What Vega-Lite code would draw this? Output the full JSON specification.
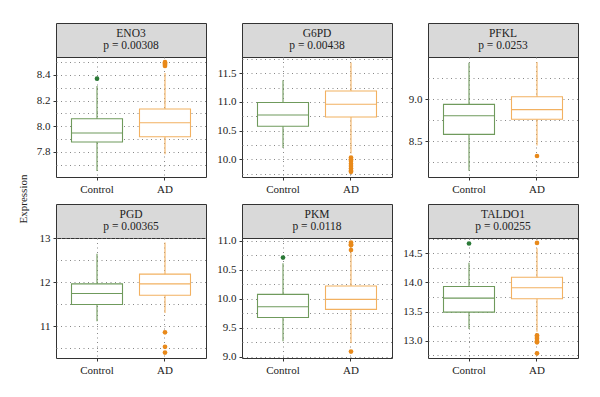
{
"$schema": "https://vega.github.io/schema/vega-lite/v6.json",
"padding": {"left": 17, "top": 22, "right": 20, "bottom": 5},
"title": {"text": "Expression", "orient": "left", "anchor": "middle", "font": "Liberation Serif", "fontSize": 11, "fontWeight": "normal", "color": "#222", "offset": 3},
"datasets": {
"heads": [
{"gene": "ENO3", "label": "ENO3\np = 0.00308"},
{"gene": "G6PD", "label": "G6PD\np = 0.00438"},
{"gene": "PFKL", "label": "PFKL\np = 0.0253"},
{"gene": "PGD", "label": "PGD\np = 0.00365"},
{"gene": "PKM", "label": "PKM\np = 0.0118"},
{"gene": "TALDO1", "label": "TALDO1\np = 0.00255"}
],
"stats": [
{"gene": "ENO3", "group": "Control", "lo": 7.652, "q1": 7.878, "med": 7.948, "q3": 8.059, "hi": 8.314},
{"gene": "ENO3", "group": "AD", "lo": 7.782, "q1": 7.919, "med": 8.028, "q3": 8.135, "hi": 8.415},
{"gene": "G6PD", "group": "Control", "lo": 10.197, "q1": 10.576, "med": 10.773, "q3": 10.99, "hi": 11.378},
{"gene": "G6PD", "group": "AD", "lo": 10.1, "q1": 10.738, "med": 10.96, "q3": 11.191, "hi": 11.69},
{"gene": "PFKL", "group": "Control", "lo": 8.149, "q1": 8.583, "med": 8.805, "q3": 8.94, "hi": 9.436},
{"gene": "PFKL", "group": "AD", "lo": 8.45, "q1": 8.762, "med": 8.877, "q3": 9.031, "hi": 9.443},
{"gene": "PGD", "group": "Control", "lo": 11.11, "q1": 11.49, "med": 11.74, "q3": 11.96, "hi": 12.64},
{"gene": "PGD", "group": "AD", "lo": 11.3, "q1": 11.7, "med": 11.96, "q3": 12.18, "hi": 12.9},
{"gene": "PKM", "group": "Control", "lo": 9.27, "q1": 9.678, "med": 9.862, "q3": 10.076, "hi": 10.61},
{"gene": "PKM", "group": "AD", "lo": 9.24, "q1": 9.817, "med": 9.99, "q3": 10.22, "hi": 10.8},
{"gene": "TALDO1", "group": "Control", "lo": 13.2, "q1": 13.49, "med": 13.73, "q3": 13.93, "hi": 14.34},
{"gene": "TALDO1", "group": "AD", "lo": 13.15, "q1": 13.72, "med": 13.91, "q3": 14.09, "hi": 14.59}
],
"out": [
{"gene": "ENO3", "group": "Control", "v": 8.371},
{"gene": "ENO3", "group": "AD", "v": 8.47},
{"gene": "ENO3", "group": "AD", "v": 8.48},
{"gene": "ENO3", "group": "AD", "v": 8.49},
{"gene": "ENO3", "group": "AD", "v": 8.5},
{"gene": "G6PD", "group": "AD", "v": 10.03},
{"gene": "G6PD", "group": "AD", "v": 10.0},
{"gene": "G6PD", "group": "AD", "v": 9.97},
{"gene": "G6PD", "group": "AD", "v": 9.92},
{"gene": "G6PD", "group": "AD", "v": 9.88},
{"gene": "G6PD", "group": "AD", "v": 9.84},
{"gene": "G6PD", "group": "AD", "v": 9.8},
{"gene": "G6PD", "group": "AD", "v": 9.78},
{"gene": "PFKL", "group": "AD", "v": 8.325},
{"gene": "PGD", "group": "AD", "v": 10.86},
{"gene": "PGD", "group": "AD", "v": 10.53},
{"gene": "PGD", "group": "AD", "v": 10.4},
{"gene": "PKM", "group": "Control", "v": 10.71},
{"gene": "PKM", "group": "AD", "v": 10.97},
{"gene": "PKM", "group": "AD", "v": 10.94},
{"gene": "PKM", "group": "AD", "v": 10.92},
{"gene": "PKM", "group": "AD", "v": 10.84},
{"gene": "PKM", "group": "AD", "v": 9.09},
{"gene": "TALDO1", "group": "Control", "v": 14.67},
{"gene": "TALDO1", "group": "AD", "v": 14.68},
{"gene": "TALDO1", "group": "AD", "v": 13.09},
{"gene": "TALDO1", "group": "AD", "v": 13.06},
{"gene": "TALDO1", "group": "AD", "v": 13.03},
{"gene": "TALDO1", "group": "AD", "v": 12.99},
{"gene": "TALDO1", "group": "AD", "v": 12.97},
{"gene": "TALDO1", "group": "AD", "v": 12.78}
]
},
"columns": 3,
"spacing": {"row": 8, "column": 9},
"concat": [
{"spacing": 0, "bounds": "flush", "vconcat": [
{"width": 150, "height": 34, "data": {"name": "heads"}, "transform": [{"filter": "datum.gene==='ENO3'"}], "mark": {"type": "text", "lineBreak": "\n", "font": "Liberation Serif", "fontSize": 11.5, "lineHeight": 12, "dy": -6, "color": "#222"}, "encoding": {"text": {"field": "label", "type": "nominal"}}, "view": {"fill": "#d9d9d9", "stroke": "#333"}},
{"width": 150, "height": 120,
"encoding": {"x": {"field": "group", "type": "nominal", "scale": {"domain": ["Control", "AD"], "paddingInner": 0, "paddingOuter": 0.103}, "axis": {"title": null, "labelAngle": 0, "grid": true, "bandPosition": 0.5}}},
"layer": [
{"data": {"name": "stats"}, "transform": [{"filter": "datum.gene==='ENO3'"}], "mark": {"type": "rule", "strokeWidth": 1.1}, "encoding": {"y": {"field": "lo", "type": "quantitative", "scale": {"domain": [7.605, 8.54], "nice": false, "zero": false}, "axis": {"title": null, "tickCount": 30, "labelOverlap": false, "values": [7.7, 7.8, 7.9, 8.0, 8.1, 8.2, 8.3, 8.4, 8.5], "labelExpr": "abs(datum.value*5-round(datum.value*5))<0.01 ? format(datum.value,'.1f') : ''", "tickOpacity": {"condition": {"test": "abs(datum.value*5-round(datum.value*5))<0.01", "value": 1}, "value": 0}}}, "y2": {"field": "hi"}, "stroke": {"field": "group", "type": "nominal", "scale": {"domain": ["Control", "AD"], "range": ["#6f9a5c", "#f2b161"]}, "legend": null}}},
{"data": {"name": "stats"}, "transform": [{"filter": "datum.gene==='ENO3'"}], "mark": {"type": "bar", "fill": "white", "strokeWidth": 1.1, "width": {"band": 0.75}}, "encoding": {"y": {"field": "q1", "type": "quantitative", "scale": {"domain": [7.605, 8.54], "nice": false, "zero": false}}, "y2": {"field": "q3"}, "stroke": {"field": "group", "type": "nominal", "legend": null}}},
{"data": {"name": "stats"}, "transform": [{"filter": "datum.gene==='ENO3'"}], "mark": {"type": "bar", "fill": "white", "strokeWidth": 1.1, "width": {"band": 0.75}}, "encoding": {"y": {"field": "med", "type": "quantitative", "scale": {"domain": [7.605, 8.54], "nice": false, "zero": false}}, "y2": {"field": "med"}, "stroke": {"field": "group", "type": "nominal", "legend": null}}},
{"data": {"name": "out"}, "transform": [{"filter": "datum.gene==='ENO3'"}], "mark": {"type": "circle", "size": 22, "opacity": 1}, "encoding": {"y": {"field": "v", "type": "quantitative", "scale": {"domain": [7.605, 8.54], "nice": false, "zero": false}}, "fill": {"field": "group", "type": "nominal", "scale": {"domain": ["Control", "AD"], "range": ["#2b7a37", "#e8891a"]}, "legend": null}}}
]}
]},
{"spacing": 0, "bounds": "flush", "vconcat": [
{"width": 150, "height": 34, "data": {"name": "heads"}, "transform": [{"filter": "datum.gene==='G6PD'"}], "mark": {"type": "text", "lineBreak": "\n", "font": "Liberation Serif", "fontSize": 11.5, "lineHeight": 12, "dy": -6, "color": "#222"}, "encoding": {"text": {"field": "label", "type": "nominal"}}, "view": {"fill": "#d9d9d9", "stroke": "#333"}},
{"width": 150, "height": 120,
"encoding": {"x": {"field": "group", "type": "nominal", "scale": {"domain": ["Control", "AD"], "paddingInner": 0, "paddingOuter": 0.103}, "axis": {"title": null, "labelAngle": 0, "grid": true, "bandPosition": 0.5}}},
"layer": [
{"data": {"name": "stats"}, "transform": [{"filter": "datum.gene==='G6PD'"}], "mark": {"type": "rule", "strokeWidth": 1.1}, "encoding": {"y": {"field": "lo", "type": "quantitative", "scale": {"domain": [9.69, 11.785], "nice": false, "zero": false}, "axis": {"title": null, "tickCount": 30, "labelOverlap": false, "values": [9.75, 10.0, 10.25, 10.5, 10.75, 11.0, 11.25, 11.5, 11.75], "labelExpr": "abs(datum.value*2-round(datum.value*2))<0.01 ? format(datum.value,'.1f') : ''", "tickOpacity": {"condition": {"test": "abs(datum.value*2-round(datum.value*2))<0.01", "value": 1}, "value": 0}}}, "y2": {"field": "hi"}, "stroke": {"field": "group", "type": "nominal", "legend": null}}},
{"data": {"name": "stats"}, "transform": [{"filter": "datum.gene==='G6PD'"}], "mark": {"type": "bar", "fill": "white", "strokeWidth": 1.1, "width": {"band": 0.75}}, "encoding": {"y": {"field": "q1", "type": "quantitative", "scale": {"domain": [9.69, 11.785], "nice": false, "zero": false}}, "y2": {"field": "q3"}, "stroke": {"field": "group", "type": "nominal", "legend": null}}},
{"data": {"name": "stats"}, "transform": [{"filter": "datum.gene==='G6PD'"}], "mark": {"type": "bar", "fill": "white", "strokeWidth": 1.1, "width": {"band": 0.75}}, "encoding": {"y": {"field": "med", "type": "quantitative", "scale": {"domain": [9.69, 11.785], "nice": false, "zero": false}}, "y2": {"field": "med"}, "stroke": {"field": "group", "type": "nominal", "legend": null}}},
{"data": {"name": "out"}, "transform": [{"filter": "datum.gene==='G6PD'"}], "mark": {"type": "circle", "size": 22, "opacity": 1}, "encoding": {"y": {"field": "v", "type": "quantitative", "scale": {"domain": [9.69, 11.785], "nice": false, "zero": false}}, "fill": {"field": "group", "type": "nominal", "legend": null}}}
]}
]},
{"spacing": 0, "bounds": "flush", "vconcat": [
{"width": 150, "height": 34, "data": {"name": "heads"}, "transform": [{"filter": "datum.gene==='PFKL'"}], "mark": {"type": "text", "lineBreak": "\n", "font": "Liberation Serif", "fontSize": 11.5, "lineHeight": 12, "dy": -6, "color": "#222"}, "encoding": {"text": {"field": "label", "type": "nominal"}}, "view": {"fill": "#d9d9d9", "stroke": "#333"}},
{"width": 150, "height": 120,
"encoding": {"x": {"field": "group", "type": "nominal", "scale": {"domain": ["Control", "AD"], "paddingInner": 0, "paddingOuter": 0.103}, "axis": {"title": null, "labelAngle": 0, "grid": true, "bandPosition": 0.5}}},
"layer": [
{"data": {"name": "stats"}, "transform": [{"filter": "datum.gene==='PFKL'"}], "mark": {"type": "rule", "strokeWidth": 1.1}, "encoding": {"y": {"field": "lo", "type": "quantitative", "scale": {"domain": [8.075, 9.504], "nice": false, "zero": false}, "axis": {"title": null, "tickCount": 30, "labelOverlap": false, "values": [8.25, 8.5, 8.75, 9.0, 9.25], "labelExpr": "abs(datum.value*2-round(datum.value*2))<0.01 ? format(datum.value,'.1f') : ''", "tickOpacity": {"condition": {"test": "abs(datum.value*2-round(datum.value*2))<0.01", "value": 1}, "value": 0}}}, "y2": {"field": "hi"}, "stroke": {"field": "group", "type": "nominal", "legend": null}}},
{"data": {"name": "stats"}, "transform": [{"filter": "datum.gene==='PFKL'"}], "mark": {"type": "bar", "fill": "white", "strokeWidth": 1.1, "width": {"band": 0.75}}, "encoding": {"y": {"field": "q1", "type": "quantitative", "scale": {"domain": [8.075, 9.504], "nice": false, "zero": false}}, "y2": {"field": "q3"}, "stroke": {"field": "group", "type": "nominal", "legend": null}}},
{"data": {"name": "stats"}, "transform": [{"filter": "datum.gene==='PFKL'"}], "mark": {"type": "bar", "fill": "white", "strokeWidth": 1.1, "width": {"band": 0.75}}, "encoding": {"y": {"field": "med", "type": "quantitative", "scale": {"domain": [8.075, 9.504], "nice": false, "zero": false}}, "y2": {"field": "med"}, "stroke": {"field": "group", "type": "nominal", "legend": null}}},
{"data": {"name": "out"}, "transform": [{"filter": "datum.gene==='PFKL'"}], "mark": {"type": "circle", "size": 22, "opacity": 1}, "encoding": {"y": {"field": "v", "type": "quantitative", "scale": {"domain": [8.075, 9.504], "nice": false, "zero": false}}, "fill": {"field": "group", "type": "nominal", "legend": null}}}
]}
]},
{"spacing": 0, "bounds": "flush", "vconcat": [
{"width": 150, "height": 34, "data": {"name": "heads"}, "transform": [{"filter": "datum.gene==='PGD'"}], "mark": {"type": "text", "lineBreak": "\n", "font": "Liberation Serif", "fontSize": 11.5, "lineHeight": 12, "dy": -6, "color": "#222"}, "encoding": {"text": {"field": "label", "type": "nominal"}}, "view": {"fill": "#d9d9d9", "stroke": "#333"}},
{"width": 150, "height": 120,
"encoding": {"x": {"field": "group", "type": "nominal", "scale": {"domain": ["Control", "AD"], "paddingInner": 0, "paddingOuter": 0.103}, "axis": {"title": null, "labelAngle": 0, "grid": true, "bandPosition": 0.5}}},
"layer": [
{"data": {"name": "stats"}, "transform": [{"filter": "datum.gene==='PGD'"}], "mark": {"type": "rule", "strokeWidth": 1.1}, "encoding": {"y": {"field": "lo", "type": "quantitative", "scale": {"domain": [10.277, 13.0], "nice": false, "zero": false}, "axis": {"title": null, "tickCount": 30, "labelOverlap": false, "values": [10.5, 11, 11.5, 12, 12.5, 13], "labelExpr": "abs(datum.value-round(datum.value))<0.01 ? format(datum.value,'d') : ''", "tickOpacity": {"condition": {"test": "abs(datum.value-round(datum.value))<0.01", "value": 1}, "value": 0}}}, "y2": {"field": "hi"}, "stroke": {"field": "group", "type": "nominal", "legend": null}}},
{"data": {"name": "stats"}, "transform": [{"filter": "datum.gene==='PGD'"}], "mark": {"type": "bar", "fill": "white", "strokeWidth": 1.1, "width": {"band": 0.75}}, "encoding": {"y": {"field": "q1", "type": "quantitative", "scale": {"domain": [10.277, 13.0], "nice": false, "zero": false}}, "y2": {"field": "q3"}, "stroke": {"field": "group", "type": "nominal", "legend": null}}},
{"data": {"name": "stats"}, "transform": [{"filter": "datum.gene==='PGD'"}], "mark": {"type": "bar", "fill": "white", "strokeWidth": 1.1, "width": {"band": 0.75}}, "encoding": {"y": {"field": "med", "type": "quantitative", "scale": {"domain": [10.277, 13.0], "nice": false, "zero": false}}, "y2": {"field": "med"}, "stroke": {"field": "group", "type": "nominal", "legend": null}}},
{"data": {"name": "out"}, "transform": [{"filter": "datum.gene==='PGD'"}], "mark": {"type": "circle", "size": 22, "opacity": 1}, "encoding": {"y": {"field": "v", "type": "quantitative", "scale": {"domain": [10.277, 13.0], "nice": false, "zero": false}}, "fill": {"field": "group", "type": "nominal", "legend": null}}}
]}
]},
{"spacing": 0, "bounds": "flush", "vconcat": [
{"width": 150, "height": 34, "data": {"name": "heads"}, "transform": [{"filter": "datum.gene==='PKM'"}], "mark": {"type": "text", "lineBreak": "\n", "font": "Liberation Serif", "fontSize": 11.5, "lineHeight": 12, "dy": -6, "color": "#222"}, "encoding": {"text": {"field": "label", "type": "nominal"}}, "view": {"fill": "#d9d9d9", "stroke": "#333"}},
{"width": 150, "height": 120,
"encoding": {"x": {"field": "group", "type": "nominal", "scale": {"domain": ["Control", "AD"], "paddingInner": 0, "paddingOuter": 0.103}, "axis": {"title": null, "labelAngle": 0, "grid": true, "bandPosition": 0.5}}},
"layer": [
{"data": {"name": "stats"}, "transform": [{"filter": "datum.gene==='PKM'"}], "mark": {"type": "rule", "strokeWidth": 1.1}, "encoding": {"y": {"field": "lo", "type": "quantitative", "scale": {"domain": [8.98, 11.047], "nice": false, "zero": false}, "axis": {"title": null, "tickCount": 30, "labelOverlap": false, "values": [9.0, 9.25, 9.5, 9.75, 10.0, 10.25, 10.5, 10.75, 11.0], "labelExpr": "abs(datum.value*2-round(datum.value*2))<0.01 ? format(datum.value,'.1f') : ''", "tickOpacity": {"condition": {"test": "abs(datum.value*2-round(datum.value*2))<0.01", "value": 1}, "value": 0}}}, "y2": {"field": "hi"}, "stroke": {"field": "group", "type": "nominal", "legend": null}}},
{"data": {"name": "stats"}, "transform": [{"filter": "datum.gene==='PKM'"}], "mark": {"type": "bar", "fill": "white", "strokeWidth": 1.1, "width": {"band": 0.75}}, "encoding": {"y": {"field": "q1", "type": "quantitative", "scale": {"domain": [8.98, 11.047], "nice": false, "zero": false}}, "y2": {"field": "q3"}, "stroke": {"field": "group", "type": "nominal", "legend": null}}},
{"data": {"name": "stats"}, "transform": [{"filter": "datum.gene==='PKM'"}], "mark": {"type": "bar", "fill": "white", "strokeWidth": 1.1, "width": {"band": 0.75}}, "encoding": {"y": {"field": "med", "type": "quantitative", "scale": {"domain": [8.98, 11.047], "nice": false, "zero": false}}, "y2": {"field": "med"}, "stroke": {"field": "group", "type": "nominal", "legend": null}}},
{"data": {"name": "out"}, "transform": [{"filter": "datum.gene==='PKM'"}], "mark": {"type": "circle", "size": 22, "opacity": 1}, "encoding": {"y": {"field": "v", "type": "quantitative", "scale": {"domain": [8.98, 11.047], "nice": false, "zero": false}}, "fill": {"field": "group", "type": "nominal", "legend": null}}}
]}
]},
{"spacing": 0, "bounds": "flush", "vconcat": [
{"width": 150, "height": 34, "data": {"name": "heads"}, "transform": [{"filter": "datum.gene==='TALDO1'"}], "mark": {"type": "text", "lineBreak": "\n", "font": "Liberation Serif", "fontSize": 11.5, "lineHeight": 12, "dy": -6, "color": "#222"}, "encoding": {"text": {"field": "label", "type": "nominal"}}, "view": {"fill": "#d9d9d9", "stroke": "#333"}},
{"width": 150, "height": 120,
"encoding": {"x": {"field": "group", "type": "nominal", "scale": {"domain": ["Control", "AD"], "paddingInner": 0, "paddingOuter": 0.103}, "axis": {"title": null, "labelAngle": 0, "grid": true, "bandPosition": 0.5}}},
"layer": [
{"data": {"name": "stats"}, "transform": [{"filter": "datum.gene==='TALDO1'"}], "mark": {"type": "rule", "strokeWidth": 1.1}, "encoding": {"y": {"field": "lo", "type": "quantitative", "scale": {"domain": [12.7, 14.765], "nice": false, "zero": false}, "axis": {"title": null, "tickCount": 30, "labelOverlap": false, "values": [12.75, 13.0, 13.25, 13.5, 13.75, 14.0, 14.25, 14.5, 14.75], "labelExpr": "abs(datum.value*2-round(datum.value*2))<0.01 ? format(datum.value,'.1f') : ''", "tickOpacity": {"condition": {"test": "abs(datum.value*2-round(datum.value*2))<0.01", "value": 1}, "value": 0}}}, "y2": {"field": "hi"}, "stroke": {"field": "group", "type": "nominal", "legend": null}}},
{"data": {"name": "stats"}, "transform": [{"filter": "datum.gene==='TALDO1'"}], "mark": {"type": "bar", "fill": "white", "strokeWidth": 1.1, "width": {"band": 0.75}}, "encoding": {"y": {"field": "q1", "type": "quantitative", "scale": {"domain": [12.7, 14.765], "nice": false, "zero": false}}, "y2": {"field": "q3"}, "stroke": {"field": "group", "type": "nominal", "legend": null}}},
{"data": {"name": "stats"}, "transform": [{"filter": "datum.gene==='TALDO1'"}], "mark": {"type": "bar", "fill": "white", "strokeWidth": 1.1, "width": {"band": 0.75}}, "encoding": {"y": {"field": "med", "type": "quantitative", "scale": {"domain": [12.7, 14.765], "nice": false, "zero": false}}, "y2": {"field": "med"}, "stroke": {"field": "group", "type": "nominal", "legend": null}}},
{"data": {"name": "out"}, "transform": [{"filter": "datum.gene==='TALDO1'"}], "mark": {"type": "circle", "size": 22, "opacity": 1}, "encoding": {"y": {"field": "v", "type": "quantitative", "scale": {"domain": [12.7, 14.765], "nice": false, "zero": false}}, "fill": {"field": "group", "type": "nominal", "legend": null}}}
]}
]}
],
"config": {
"font": "Liberation Serif",
"view": {"stroke": "#333", "strokeWidth": 1},
"axis": {"domain": false, "labelFont": "Liberation Serif", "labelFontSize": 11, "labelFontWeight": "normal", "labelColor": "#222", "labelOverlap": false, "gridColor": "#888", "gridDash": [1, 3.5], "gridWidth": 1, "tickColor": "#333", "tickSize": 3, "labelPadding": 3},
"axisX": {"labelPadding": 3},
"axisY": {"minExtent": 24, "maxExtent": 24}
}
}
